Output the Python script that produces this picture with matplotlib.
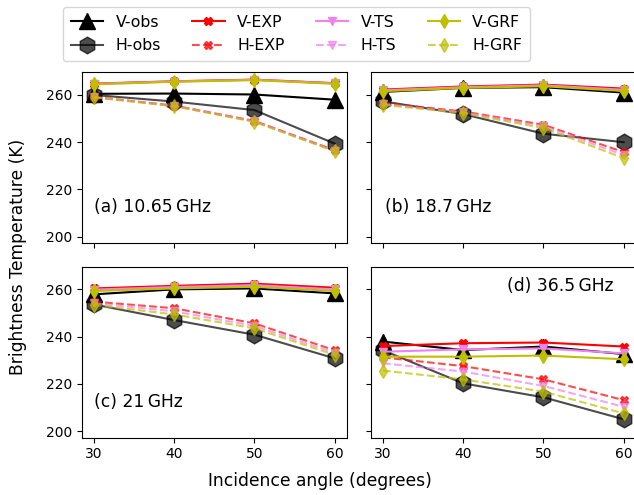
import matplotlib
matplotlib.use("Agg")
import matplotlib.pyplot as plt

angles = [30, 40, 50, 60]

panel_labels = ["(a) 10.65\u2009GHz", "(b) 18.7\u2009GHz", "(c) 21\u2009GHz", "(d) 36.5\u2009GHz"]

v_obs = [
    [260.5, 260.6, 260.2, 258.0],
    [261.3, 263.0, 263.3, 261.0],
    [257.9, 260.0, 260.4, 258.3],
    [237.9, 234.3, 235.8, 232.6],
]
h_obs = [
    [260.0, 257.2, 253.6, 239.4],
    [257.3, 251.9, 243.6, 240.0],
    [253.6, 247.0, 240.8, 230.8],
    [234.2, 220.2, 214.3, 205.0],
]
v_exp = [
    [264.8, 265.8, 266.5, 265.0],
    [262.3, 263.6, 264.4, 262.7],
    [260.4, 261.5, 262.4, 260.7],
    [236.0, 237.2, 237.5, 235.8],
]
h_exp = [
    [259.2, 255.5, 249.0, 236.6],
    [256.6, 253.0, 247.4, 235.8],
    [254.8, 252.0, 245.6, 234.2],
    [231.2, 227.5, 221.9, 213.1],
]
v_ts = [
    [264.7, 265.7, 266.4, 264.9],
    [262.0, 263.3, 264.1, 262.2],
    [259.9, 261.0, 261.8, 260.0],
    [233.6, 234.6, 235.0, 232.9],
]
h_ts = [
    [259.1, 255.4, 248.8, 236.4],
    [256.2, 252.6, 246.7, 234.6],
    [254.1, 250.7, 244.5, 233.2],
    [228.7, 225.2, 219.1, 210.3],
]
v_grf = [
    [264.5, 265.6, 266.3, 264.7],
    [261.6, 263.0, 263.7, 261.7],
    [259.3, 260.4, 261.1, 259.3],
    [231.5, 231.5, 232.0, 230.4],
]
h_grf = [
    [259.0, 255.2, 248.6, 236.2],
    [255.8, 252.3, 246.0, 233.3],
    [253.4, 249.4, 243.5, 232.3],
    [225.6, 221.9, 216.7, 207.5],
]

W, H = 634, 495
fig = plt.figure(figsize=(W / 100, H / 100), dpi=100)

ax_w = 264.7 / W
ax_h = 171.0 / H
lefts = [82 / W, 371 / W]
bottoms = [1 - 243.3 / H, 1 - 437.7 / H]

axes = []
for r in range(2):
    for c in range(2):
        ax = fig.add_axes([lefts[c], bottoms[r], ax_w, ax_h])
        axes.append(ax)

text_pos = [(0.045, 0.214), (0.053, 0.214), (0.045, 0.211), (0.513, 0.886)]

handles = None
for i, ax in enumerate(axes):
    l1, = ax.plot(angles, v_obs[i], color="black", marker="^", ms=12, lw=1.5, label="V-obs")
    l2, = ax.plot(angles, h_obs[i], color="black", marker="h", ms=12, lw=1.5, alpha=0.7, label="H-obs")
    l3, = ax.plot(angles, v_exp[i], color="red", marker="X", ms=6, lw=1.5, label="V-EXP")
    l4, = ax.plot(angles, h_exp[i], color="red", marker="X", ms=6, lw=1.5, ls="--", alpha=0.7, label="H-EXP")
    l5, = ax.plot(angles, v_ts[i], color="violet", marker="v", ms=6, lw=1.5, label="V-TS")
    l6, = ax.plot(angles, h_ts[i], color="violet", marker="v", ms=6, lw=1.5, ls="--", alpha=0.7, label="H-TS")
    l7, = ax.plot(angles, v_grf[i], color="y", marker="d", ms=7, lw=1.5, label="V-GRF")
    l8, = ax.plot(angles, h_grf[i], color="y", marker="d", ms=7, lw=1.5, ls="--", alpha=0.7, label="H-GRF")
    handles = [l1, l2, l3, l4, l5, l6, l7, l8]
    ax.set_ylim(197.2, 269.6)
    ax.set_xlim(28.5, 61.5)
    ax.set_xticks(angles)
    ax.set_yticks([200, 220, 240, 260])
    if i % 2 == 1:
        ax.set_yticklabels([])
    if i < 2:
        ax.set_xticklabels([])
    tx, ty = text_pos[i]
    ax.text(tx, ty, panel_labels[i], transform=ax.transAxes, fontsize=12.3, ha="left", va="center")

fig.legend(handles=handles, ncol=4, loc="upper left",
           bbox_to_anchor=(63 / W, 1 - 7 / H), borderaxespad=0, fontsize=11.3,
           handlelength=2.05, columnspacing=2.0, labelspacing=0.55, borderpad=0.5,
           framealpha=0.8)

fig.text(320 / W, 1 - 481 / H, "Incidence angle (degrees)", ha="center", va="center", fontsize=12.3)
fig.text(18 / W, 1 - 257 / H, "Brightness Temperature (K)", ha="center", va="center", rotation=90, fontsize=12.3)

fig.savefig("out.png", dpi=100)
